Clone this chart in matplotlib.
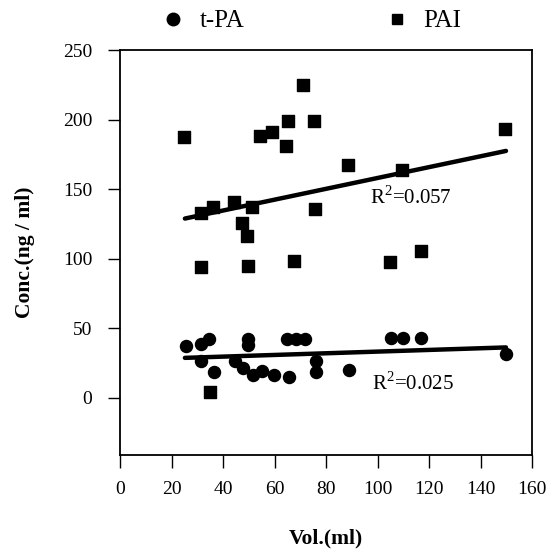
import matplotlib
matplotlib.use("Agg")
import matplotlib.pyplot as plt
from matplotlib.lines import Line2D

plt.rcParams['font.family'] = ['Liberation Serif', 'DejaVu Serif']

# t-PA (circles)
tpa_vol = [25.5, 31.3, 34.7, 31.5, 36.6, 49.8, 49.8, 44.7, 47.6, 51.8, 55.0, 59.8,
           65.8, 64.7, 68.3, 72.0, 76.0, 76.0, 88.9, 105.1, 109.9, 116.9, 149.9]
tpa_conc = [37.4, 39.1, 42.7, 26.4, 18.3, 42.0, 37.9, 26.4, 21.6, 16.3, 19.4, 16.3,
            15.1, 42.2, 42.2, 42.2, 26.6, 18.3, 20.4, 43.2, 43.2, 43.2, 31.4]

# PAI (squares)
pai_vol = [25.0, 31.3, 36.2, 44.2, 51.3, 47.4, 49.4, 31.5, 49.6, 67.7, 54.3, 59.1,
           65.4, 64.3, 71.2, 75.3, 75.6, 88.4, 109.5, 104.9, 116.9, 149.5, 34.8]
pai_conc = [187.6, 133.1, 137.4, 141.0, 137.4, 125.7, 116.3, 94.2, 94.7, 98.3, 188.3, 191.4,
            199.3, 181.3, 225.2, 199.3, 135.5, 167.6, 163.8, 97.8, 105.3, 193.3, 4.3]

# regression lines (end points)
fit_vol = [25.2, 149.9]
tpa_fit = [28.8, 36.3]
pai_fit = [128.9, 177.5]

r2_tpa = "R$^{\\mathregular{2}}$=0.025"
r2_pai = "R$^{\\mathregular{2}}$=0.057"

x_ticks = [0, 20, 40, 60, 80, 100, 120, 140, 160]
y_ticks = [0, 50, 100, 150, 200, 250]

fig = plt.figure(figsize=(5.59, 5.54), dpi=100)
ax = fig.add_axes([0.2147, 0.1787, 0.737, 0.731])

ax.scatter(tpa_vol, tpa_conc, marker='o', s=75, color='black', zorder=3)
ax.scatter(pai_vol, pai_conc, marker='s', s=72, color='black', zorder=3)
ax.plot(fit_vol, tpa_fit, color='black', lw=3.2, solid_capstyle='round', zorder=2)
ax.plot(fit_vol, pai_fit, color='black', lw=3.2, solid_capstyle='round', zorder=2)

ax.text(97, 144, r2_pai, fontsize=15, va='center', ha='left')
ax.text(98, 10.5, r2_tpa, fontsize=15, va='center', ha='left')

ax.set_xlim(0, 160)
ax.set_ylim(-41, 250)
ax.set_xticks(x_ticks)
ax.set_yticks(y_ticks)
ax.tick_params(direction='out', length=9, width=1.0, labelsize=14)
ax.tick_params(axis='x', pad=10)
ax.tick_params(axis='y', pad=11)
for s in ax.spines.values():
    s.set_linewidth(1.3)

ax.set_xlabel("Vol.(ml)", fontsize=15.5, fontweight='bold', labelpad=22)
ax.set_ylabel("Conc.(ng / ml)", fontsize=15.5, fontweight='bold', labelpad=20)

handles = [Line2D([], [], marker='o', ls='', color='black', markersize=9),
           Line2D([], [], marker='s', ls='', color='black', markersize=6.5)]
fig.legend(handles, ['t-PA', 'PAI'], ncol=2, frameon=False, loc='center',
           bbox_to_anchor=(0.556, 0.962), fontsize=18, handletextpad=0.55,
           columnspacing=5.6, handlelength=1.0)

fig.savefig("out.png", dpi=100)
